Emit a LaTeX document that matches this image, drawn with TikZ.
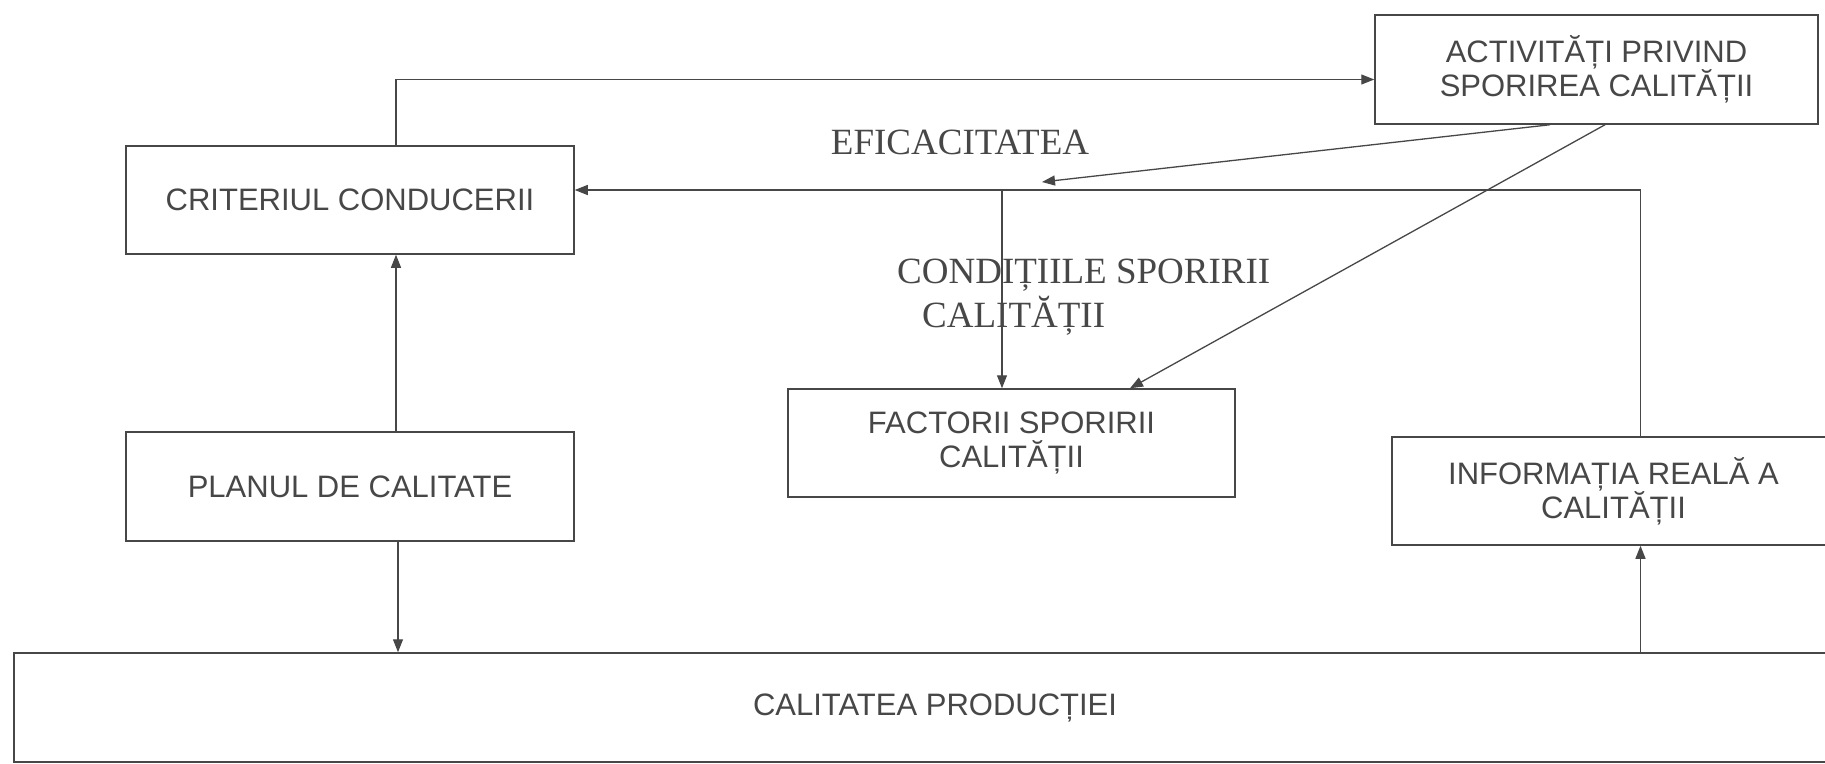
\documentclass[tikz,border=0pt]{standalone}
\usepackage{fontspec}
\setmainfont{Liberation Serif}
\newfontfamily\arialf{Liberation Sans}
\usetikzlibrary{arrows.meta,calc}
\definecolor{ink}{HTML}{474747}
\begin{document}
\begin{tikzpicture}[x=1pt,y=-1pt,
  box/.style={draw=ink, line width=1.5pt, inner sep=0pt, align=center, text=ink,
    font=\arialf\fontsize{31}{34}\selectfont},
  lbl/.style={text=ink, inner sep=0pt, font=\fontsize{37}{40}\selectfont},
  conn/.style={draw=ink, line width=1.3pt},
  arr/.style={conn, -{Triangle[length=13pt,width=10pt]}}]
\useasboundingbox (0,0) rectangle (1825,763);
\fill[white] (0,0) rectangle (1825,763);

% boxes
\node[box, minimum width=448pt, minimum height=108pt] (crit) at (350,200) {CRITERIUL CONDUCERII};
\node[box, minimum width=448pt, minimum height=109pt] (plan) at (350,486.5) {PLANUL DE CALITATE};
\node[box, minimum width=443pt, minimum height=109pt] (act) at (1596.5,69.5) {ACTIVITĂȚI PRIVIND\\SPORIREA CALITĂȚII};
\node[box, minimum width=447pt, minimum height=108pt] (fac) at (1011.5,443) {FACTORII SPORIRII\\CALITĂȚII};
\node[box, minimum width=443pt, minimum height=108pt] (info) at (1613.5,491) {INFORMAȚIA REALĂ A\\CALITĂȚII};
\node[box, minimum width=1821pt, minimum height=109pt] (calit) at (924.5,707.5) {\hspace*{21pt}CALITATEA PRODUCȚIEI};

% labels
\node[lbl, anchor=base] (eff) at (960,154) {EFICACITATEA};
\node[lbl, anchor=base west] (cond1) at (897,283) {CONDIȚIILE SPORIRII};
\node[lbl, anchor=base west] (cond2) at (922,327) {CALITĂȚII};

% helper coordinates
\coordinate (efftip) at (1042,182);
\coordinate (j1) at (1002,190);
\coordinate (ix) at ([xshift=27pt]info.south);
\coordinate (itop) at ([xshift=27pt]info.north);
\coordinate (pbot) at ([xshift=48pt]plan.south);

% connectors
\draw[arr] ([xshift=46pt]crit.north) |- ([yshift=-10pt]act.west);
\draw[arr] ([xshift=46pt]plan.north) -- ([xshift=46pt]crit.south);
\draw[arr] (pbot) -- (calit.north -| pbot);
\draw[arr] (calit.north -| ix) -- (ix);
\draw[arr] (itop) |- ([yshift=10pt]crit.east);
\draw[arr] ([xshift=-46.5pt]act.south) -- (efftip);
\draw[arr] (j1) -- (j1 |- fac.north);
\draw[arr] ([xshift=8.5pt]act.south) -- ([xshift=118.5pt]fac.north);
\end{tikzpicture}
\end{document}
